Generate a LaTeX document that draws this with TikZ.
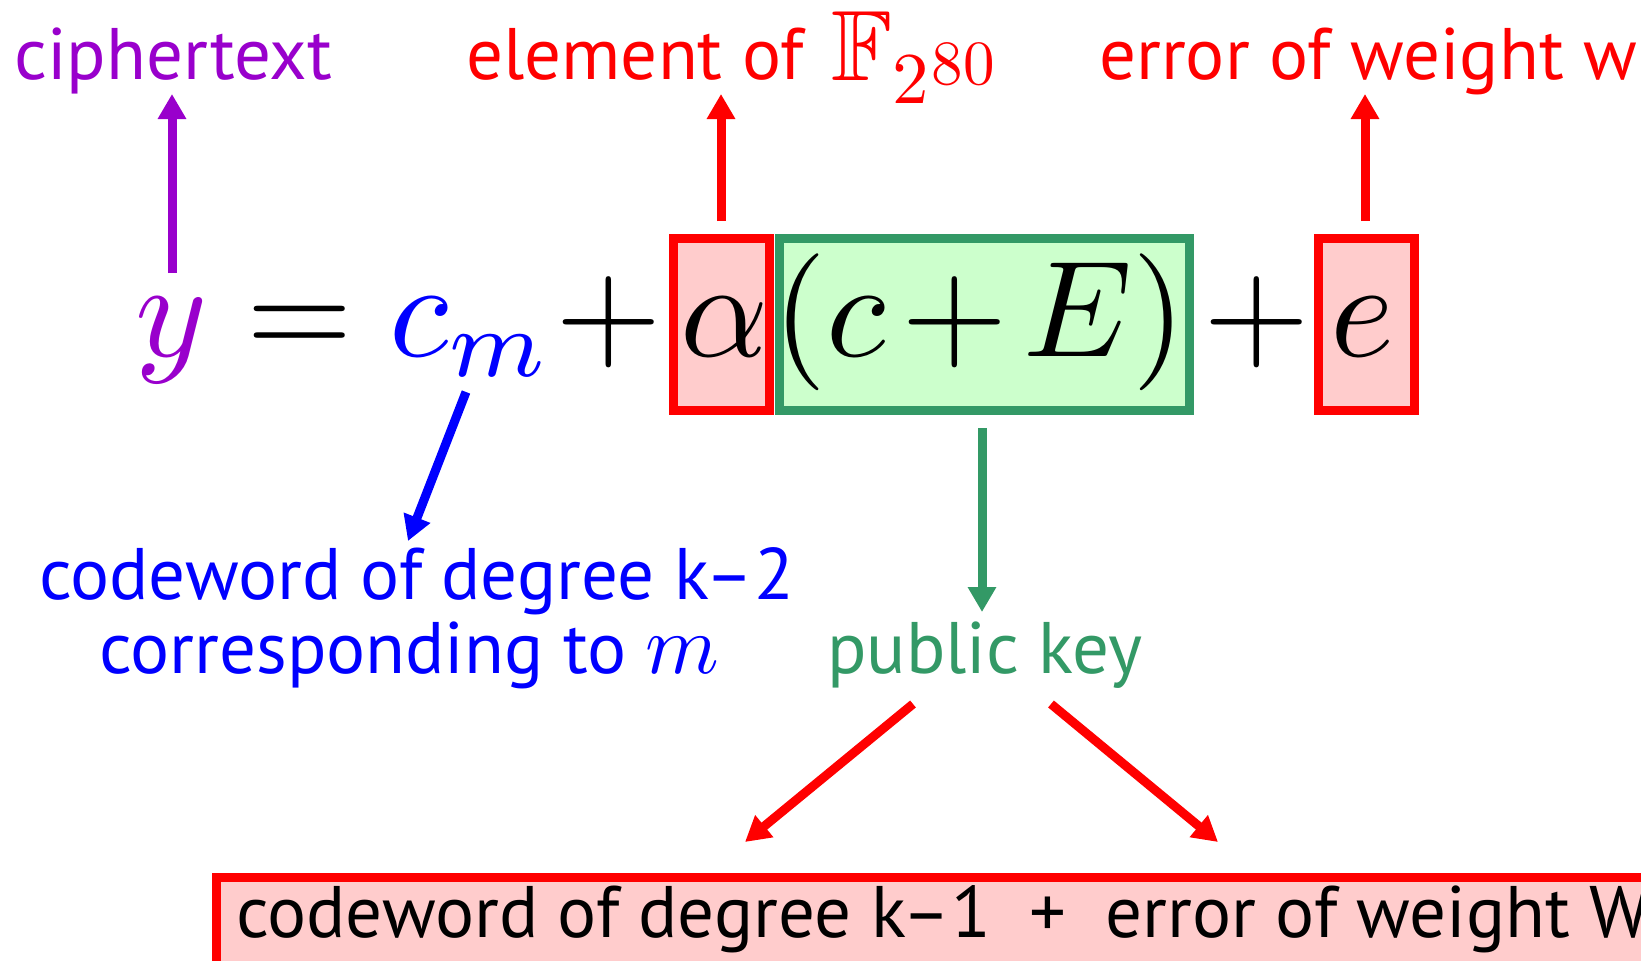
\documentclass[tikz,border=0pt]{standalone}
\usepackage{amssymb}
\usepackage{fontspec}
\setmainfont{PT Sans}
\usetikzlibrary{arrows.meta}
\definecolor{cpurple}{HTML}{9900CC}
\definecolor{cgreen}{HTML}{339966}
\definecolor{cgreenfill}{HTML}{CCFFCC}
\definecolor{cpink}{HTML}{FFCCCC}
\definecolor{cred}{HTML}{FF0000}
\definecolor{cblue}{HTML}{0000FF}
\newcommand{\hugemath}[1]{{\normalsize\scalebox{13.7}{$#1$}}}
\newcommand{\scaledmath}[2]{{\normalsize\scalebox{#1}{$#2$}}}
\begin{document}
\begin{tikzpicture}[x=1pt,y=-1pt,
  lbl/.style={inner sep=0pt, anchor=base west, font=\fontsize{73}{88}\selectfont},
  mth/.style={inner sep=0pt, anchor=base},
  hbox/.style={draw, line width=9pt, inner sep=0pt, minimum height=172pt},
  arr/.style={-{Triangle[length=25pt,width=27pt]}, line width=9pt},
]
\useasboundingbox (0,0) rectangle (1641,961);
\clip (0,0) rectangle (1641,961);

% highlighted boxes
\node[hbox, draw=cgreen, fill=cgreenfill, minimum width=410.5pt] (gbox) at (984.25,324.5) {};
\node[hbox, draw=cred, fill=cpink, minimum width=96pt] (abox) at (721.5,324.5) {};
\node[hbox, draw=cred, fill=cpink, minimum width=96pt] (ebox) at (1366.5,324.5) {};

% formula
\node[mth, text=cpurple] (yv) at (172,356) {\hugemath{y}};
\node[mth] (eq) at (300,356) {\hugemath{=}};
\node[mth, text=cblue] (cm) at (471,356) {\hugemath{c_m}};
\node[mth] (p1) at (608.5,356) {\hugemath{+}};
\node[mth] (al) at (724.5,356) {\hugemath{\alpha}};
\node[mth] (ce) at (979.5,356) {\hugemath{\medmuskip=2mu (c+E)}};
\node[mth] (p2) at (1257,356) {\hugemath{+}};
\node[mth] (ev) at (1362,356) {\hugemath{e}};

% labels
\node[lbl, anchor=base, text=cpurple] (cipher) at (173,79) {ciphertext};
\node[lbl, text=cred] (elem) at (466,79) {element of};
\node[inner sep=0pt, anchor=base west, text=cred] (field) at (831,80)
  {\scaledmath{10}{\mathbb{F}}\raisebox{-24pt}{\scaledmath{7.3}{2}\hspace{3pt}\raisebox{19pt}{\scaledmath{6.3}{80}}}};
\node[lbl, text=cred] (errw) at (1099,79) {error of weight w};
\node[lbl, text=cblue] (cw2) at (39,599) {codeword of degree k–2};
\node[lbl, text=cblue] (corr) at (99,673) {corresponding to \scaledmath{8.4}{m}};
\node[lbl, text=cgreen] (pk) at (827,673) {public key};

% bottom box
\node[draw=cred, fill=cpink, line width=9pt, inner sep=0pt, anchor=north west,
  minimum width=1600pt, minimum height=150pt] (bbox) at (211.5,872.5) {};
\node[lbl] (btxt) at (236,937) {codeword of degree k–1~~+~~error of weight W};

% arrow end points
\coordinate (yv-top) at (172,273);
\coordinate (cipher-bot) at (172,94);
\coordinate (abox-top) at (721,221);
\coordinate (elem-bot) at (721,94);
\coordinate (ebox-top) at (1365,221);
\coordinate (errw-bot) at (1365,94);
\coordinate (cm-bot) at (466,392);
\coordinate (cw2-top) at (408,541);
\coordinate (gbox-bot) at (982,428);
\coordinate (pk-top) at (982,612);
\coordinate (pk-left) at (913,704);
\coordinate (bbox-left) at (745,842);
\coordinate (pk-right) at (1051,704);
\coordinate (bbox-right) at (1218,842);

% arrows
\draw[arr, cpurple] (yv-top) -- (cipher-bot);
\draw[arr, cred] (abox-top) -- (elem-bot);
\draw[arr, cred] (ebox-top) -- (errw-bot);
\draw[arr, cblue] (cm-bot) -- (cw2-top);
\draw[arr, cgreen] (gbox-bot) -- (pk-top);
\draw[arr, cred] (pk-left) -- (bbox-left);
\draw[arr, cred] (pk-right) -- (bbox-right);
\end{tikzpicture}
\end{document}
